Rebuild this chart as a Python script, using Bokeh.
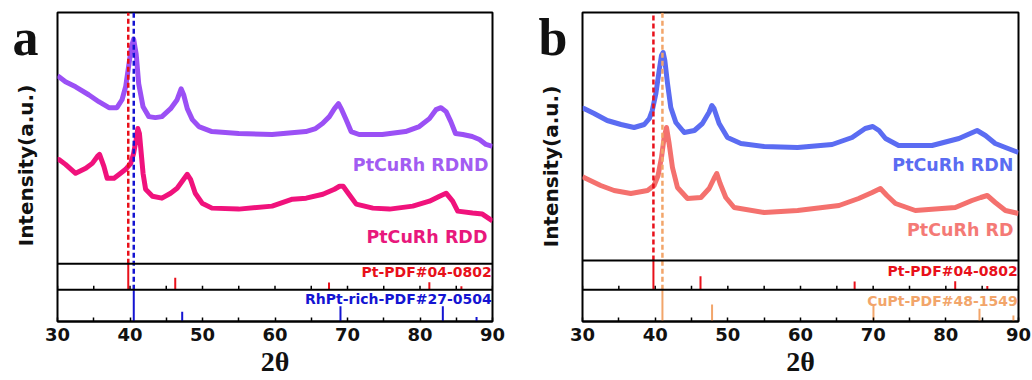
import math
from bokeh.plotting import figure
from bokeh.layouts import row
from bokeh.models import Span, Label, FixedTicker, Range1d
from bokeh.embed import file_html
from bokeh.resources import INLINE

# ---------------- data (2theta in degrees, intensity in a.u., stacked) ----------------
rdnd_2theta = [30.0, 30.2, 31.1, 32.5, 34.3, 35.7, 37.1, 38.2, 38.9, 39.4, 39.8, 40.2, 40.5, 40.85,
               41.2, 41.8, 42.6, 43.5, 44.4, 45.6, 46.5, 47.05, 47.4, 47.9, 48.6, 49.5, 51.3, 55.0,
               59.6, 64.25, 65.6, 66.55, 67.5, 68.2, 68.76, 69.2, 69.8, 70.5, 71.6, 74.8, 78.0,
               79.9, 81.3, 82.2, 82.9, 83.6, 84.25, 84.9, 85.9, 87.2, 88.2, 89.1, 90.0]
rdnd_int = [189, 188, 183, 178, 170, 163, 157, 157, 165, 178, 198, 218, 226, 211,
            181, 158, 148, 147, 148, 156, 165, 176, 170, 156, 145, 138, 133, 131,
            130, 133, 136, 141, 148, 156, 161, 155, 145, 133, 130, 130, 133,
            138, 146, 155, 157, 153, 143, 131, 130, 128, 125, 120, 118]

rdd_2theta = [30.0, 30.2, 31.1, 32.5, 33.9, 34.8, 35.5, 35.8, 36.4, 36.85, 37.8, 38.7, 39.4, 40.1,
              40.5, 40.85, 41.08, 41.3, 41.55, 41.8, 42.15, 43.1, 44.4, 45.6, 46.5, 47.4, 47.9,
              48.35, 49.0, 49.95, 51.3, 55.0, 59.6, 62.4, 64.3, 66.6, 68.2, 68.9, 69.4, 70.2,
              71.2, 73.5, 75.8, 79.0, 81.3, 82.7, 83.6, 84.5, 85.2, 87.25, 88.6, 90.0]
rdd_int = [105, 105, 100, 91, 96, 101, 108, 110, 98, 86, 86, 91, 95, 101,
           111, 125, 136, 131, 111, 91, 75, 68, 66, 71, 76, 85, 90,
           85, 71, 61, 56, 55, 58, 65, 66, 70, 75, 78, 78, 70,
           60, 56, 55, 58, 63, 68, 71, 63, 53, 51, 50, 43]

rdn_2theta = [30.0, 30.2, 31.6, 33.4, 35.3, 37.1, 38.5, 39.2, 39.6, 40.1, 40.55, 40.87, 41.1, 41.33,
              41.7, 42.15, 42.85, 44.0, 45.4, 46.5, 47.4, 47.8, 48.1, 48.8, 49.95, 51.8, 55.0,
              59.6, 64.35, 67.1, 68.9, 69.95, 70.8, 71.7, 73.5, 78.1, 81.8, 84.3, 85.45, 86.8,
              88.2, 90.0]
rdn_int = [152, 152, 147, 140, 136, 133, 136, 142, 150, 167, 190, 205, 208, 200,
           177, 153, 138, 128, 130, 137, 148, 155, 152, 137, 123, 117, 114,
           113, 116, 123, 132, 134, 130, 122, 115, 115, 122, 130, 125, 117,
           113, 108]

rd_2theta = [30.0, 30.2, 32.5, 34.35, 36.65, 38.95, 39.85, 40.4, 40.87, 41.23, 41.56, 41.92, 42.38,
             43.07, 44.45, 46.3, 47.43, 48.1, 48.48, 48.94, 49.72, 50.87, 55.0, 59.6, 65.3, 68.0,
             69.86, 71.0, 71.9, 73.07, 75.8, 81.3, 83.6, 84.8, 85.7, 86.8, 88.2, 90.0]
rd_int = [84, 83, 75, 70, 67, 70, 75, 85, 103, 123, 133, 117, 93,
          73, 62, 63, 72, 82, 87, 77, 63, 53, 48, 50, 55, 62,
          68, 72, 65, 57, 50, 53, 60, 63, 65, 58, 50, 47]

# standard cards: peak positions (2theta) and relative intensities (%)
pt_pos = [39.76, 46.24, 67.45, 81.29, 85.71]
pt_int = [100, 46, 28, 29, 13]
rhpt_pos = [40.52, 47.2, 69.03, 83.15, 87.8]
rhpt_int = [100, 31, 48, 48, 14]
cupt_pos = [41.0, 47.83, 70.04, 84.63, 89.3]
cupt_int = [100, 54, 50, 40, 19]

major_ticks = [30, 40, 50, 60, 70, 80, 90]
minor_ticks = [35, 45, 55, 65, 75, 85]
all_ticks = [30, 35, 40, 45, 50, 55, 60, 65, 70, 75, 80, 85, 90]

FONT = "DejaVu Sans"
H = 380
TOP = 12


def make_side(width, bottom_border, y_lo, y_hi, letter, letter_x, letter_base_px,
              ylab_x, ylab_center_px):
    """Narrow strip holding the panel letter and the rotated y-axis title.
    Its frame spans the same rows as the panel frame next to it."""
    s = figure(width=width, height=H, output_backend="svg", toolbar_location=None,
               x_range=Range1d(0, width), y_range=Range1d(y_lo, y_hi),
               x_axis_location=None, y_axis_location=None, title=None,
               min_border_left=0, min_border_right=0,
               min_border_top=TOP, min_border_bottom=bottom_border)
    s.grid.visible = False
    s.outline_line_color = None
    frame_px = H - TOP - bottom_border
    upp = (y_hi - y_lo) / frame_px          # data units per pixel

    def to_y(px):
        return y_hi - (px - TOP) * upp

    s.add_layout(Label(x=letter_x, y=to_y(letter_base_px), text=letter, text_align="left",
                       text_baseline="alphabetic", text_font="Liberation Serif",
                       text_font_style="bold", text_font_size="52px", text_color="#111111"))
    s.add_layout(Label(x=ylab_x, y=to_y(ylab_center_px), text="Intensity(a.u.)",
                       angle=math.pi / 2, text_align="center", text_baseline="middle",
                       text_font=FONT, text_font_style="bold", text_font_size="20px",
                       text_color="#111111"))
    return s


def make_panel(width, left_border, right_border, bottom_border, main_top, s1, s2,
               curves, card1, card2, card1_label, card2_label, card1_col, card2_col,
               card1_lab_y, card2_lab_y):
    p = figure(width=width, height=H, output_backend="svg", toolbar_location=None,
               x_range=Range1d(30, 90), y_range=Range1d(s2, main_top),
               y_axis_location=None, title=None,
               min_border_left=left_border, min_border_right=right_border,
               min_border_top=TOP, min_border_bottom=bottom_border)
    p.grid.visible = False
    p.outline_line_color = "black"
    p.outline_line_width = 2
    p.background_fill_color = "white"
    p.border_fill_color = "white"

    xa = p.xaxis[0]
    xa.ticker = FixedTicker(ticks=major_ticks, minor_ticks=minor_ticks)
    xa.major_tick_in = 4
    xa.major_tick_out = 0
    xa.minor_tick_in = 4
    xa.minor_tick_out = 0
    xa.major_tick_line_width = 1.5
    xa.minor_tick_line_width = 1.5
    xa.axis_line_width = 2
    xa.major_label_text_font = FONT
    xa.major_label_text_font_style = "bold"
    xa.major_label_text_font_size = "18px"
    xa.major_label_text_color = "#111111"
    xa.major_label_standoff = 6
    xa.axis_label = "2θ"
    xa.axis_label_text_font = "Liberation Serif"
    xa.axis_label_text_font_style = "bold"
    xa.axis_label_text_font_size = "28px"
    xa.axis_label_text_color = "#111111"
    xa.axis_label_standoff = 2

    # curves
    for xs, ys, col, lab, lab_col, lab_x, lab_y in curves:
        p.line(xs, ys, line_color=col, line_width=5, line_join="round")
        p.add_layout(Label(x=lab_x, y=lab_y, text=lab, text_align="right", text_baseline="middle",
                           text_font=FONT, text_font_style="bold", text_font_size="17.5px",
                           text_color=lab_col))

    # strip separators
    p.add_layout(Span(location=0, dimension="width", line_color="black", line_width=2))
    p.add_layout(Span(location=s1, dimension="width", line_color="black", line_width=2))

    # ticks at the bottom of the first strip
    p.segment(x0=all_ticks, y0=[s1] * len(all_ticks), x1=all_ticks, y1=[s1 + 4] * len(all_ticks),
              line_color="black", line_width=1.5)

    # reference cards
    h1 = 0 - s1
    h2 = s1 - s2
    (pos1, int1), (pos2, int2) = card1, card2
    p.segment(x0=pos1, y0=[s1] * len(pos1), x1=pos1, y1=[s1 + h1 * v / 100 for v in int1],
              line_color=card1_col, line_width=2)
    p.segment(x0=pos2, y0=[s2] * len(pos2), x1=pos2, y1=[s2 + h2 * v / 100 for v in int2],
              line_color=card2_col, line_width=2)

    # dashed guide lines through the strongest reflections
    p.segment(x0=[pos1[0]], y0=[0], x1=[pos1[0]], y1=[main_top], line_color=card1_col,
              line_width=2.5, line_dash="5 3")
    p.segment(x0=[pos2[0]], y0=[s1], x1=[pos2[0]], y1=[main_top], line_color=card2_col,
              line_width=2.5, line_dash="5 3")

    p.add_layout(Label(x=89.9, y=card1_lab_y, text=card1_label, text_align="right",
                       text_baseline="middle", text_font=FONT, text_font_style="bold",
                       text_font_size="14px", text_color=card1_col))
    p.add_layout(Label(x=89.9, y=card2_lab_y, text=card2_label, text_align="right",
                       text_baseline="middle", text_font=FONT, text_font_style="bold",
                       text_font_size="14px", text_color=card2_col))
    return p


side_a = make_side(44, 57, -58, 252.7, "a", 12, 37, 25, 166)
left = make_panel(
    472, 13, 24, 57, 252.7, -26, -58,
    [(rdnd_2theta, rdnd_int, "#9B50F5", "PtCuRh RDND", "#A25CF2", 89.45, 99.7),
     (rdd_2theta, rdd_int, "#F0127C", "PtCuRh RDD", "#E8187C", 89.3, 27.2)],
    (pt_pos, pt_int), (rhpt_pos, rhpt_int),
    "Pt-PDF#04-0802", "RhPt-rich-PDF#27-0504", "#E8101A", "#1414D2",
    -8.3, -35.3)

side_b = make_side(52, 59, -61, 248, "b", 22, 37, 34, 166)
right = make_panel(
    464, 14, 14, 59, 248, -29.3, -61,
    [(rdn_2theta, rdn_int, "#5B6CF2", "PtCuRh RDN", "#5B6CF2", 89.31, 95.5),
     (rd_2theta, rd_int, "#F4716E", "PtCuRh RD", "#F47A76", 89.31, 30.5)],
    (pt_pos, pt_int), (cupt_pos, cupt_int),
    "Pt-PDF#04-0802", "CuPt-PDF#48-1549", "#E8101A", "#F2A56A",
    -10, -40)

layout = row(side_a, left, side_b, right, spacing=0)
open("out.html", "w").write(file_html(layout, INLINE))
